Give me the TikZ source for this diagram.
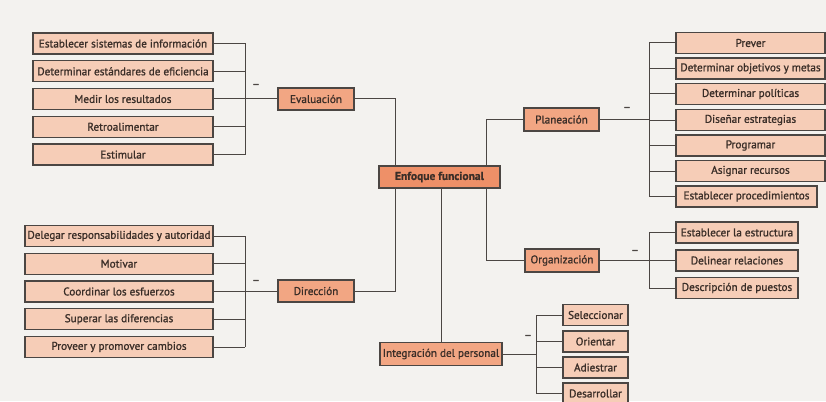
\documentclass[tikz,border=0pt]{standalone}
\usepackage{fontspec}
\setmainfont{PT Sans}
\newfontfamily\boxfont[FakeBold=1.2]{PT Sans}
\newfontfamily\rootfont[FakeBold=0.8]{PT Sans Bold}
\pgfdeclarelayer{bg}
\pgfsetlayers{bg,main}
\definecolor{paper}{HTML}{F3F2EF}
\definecolor{leaf}{HTML}{F6CDB7}
\definecolor{branch}{HTML}{F2A683}
\definecolor{root}{HTML}{EE9068}
\definecolor{edge}{HTML}{4B4643}
\definecolor{ink}{HTML}{3A2E28}

\begin{document}
\begin{tikzpicture}[x=1pt,y=-1pt,
  box/.style={draw=edge, line width=1.3pt, text=ink, inner sep=0pt,
    minimum height=21pt, anchor=center, font=\boxfont\fontsize{11.2}{12}\selectfont},
  leafbox/.style={box, fill=leaf},
  branchbox/.style={box, fill=branch},
  rootbox/.style={box, fill=root, font=\rootfont\fontsize{11.5}{12}\selectfont},
  wire/.style={draw=edge, line width=1pt},
  tick/.style={text=edge, font=\boxfont\fontsize{12}{12}\selectfont, inner sep=0pt}
]
\useasboundingbox (0,0) rectangle (826,401);
\begin{pgfonlayer}{bg}
  \fill[paper] (0,0) rectangle (826,401);
\end{pgfonlayer}

% ---- central node
\node[rootbox, minimum width=121pt, minimum height=22pt] (enf) at (439.5,177) {Enfoque funcional};

% ---- main functions
\node[branchbox, minimum width=76pt, minimum height=22pt] (ev)  at (316,99)   {Evaluación};
\node[branchbox, minimum width=76pt, minimum height=22pt] (dir) at (316,291)  {Dirección};
\node[branchbox, minimum width=75pt, minimum height=23pt] (pl)  at (561.5,119.5) {Planeación};
\node[branchbox, minimum width=74pt, minimum height=23pt] (org) at (562,260.5) {Organización};
\node[branchbox, minimum width=122pt, minimum height=23pt] (ip) at (441,354) {Integración del personal};

% ---- Evaluación activities
\node[leafbox, minimum width=180pt] (e1) at (123,43.5)  {Establecer sistemas de información};
\node[leafbox, minimum width=180pt] (e2) at (123,71.3)  {Determinar estándares de eficiencia};
\node[leafbox, minimum width=180pt] (e3) at (123,99)    {Medir los resultados};
\node[leafbox, minimum width=180pt] (e4) at (123,126.8) {Retroalimentar};
\node[leafbox, minimum width=180pt] (e5) at (123,154.6) {Estimular};

% ---- Dirección activities
\node[leafbox, minimum width=188pt] (d1) at (119,236)   {Delegar responsabilidades y autoridad};
\node[leafbox, minimum width=188pt] (d2) at (119,263.7) {Motivar};
\node[leafbox, minimum width=188pt] (d3) at (119,291.5) {Coordinar los esfuerzos};
\node[leafbox, minimum width=188pt] (d4) at (119,319.3) {Superar las diferencias};
\node[leafbox, minimum width=188pt] (d5) at (119,347)   {Proveer y promover cambios};

% ---- Planeación activities
\node[leafbox, minimum width=149pt] (p1) at (750.5,43)   {Prever};
\node[leafbox, minimum width=149pt] (p2) at (750.5,68.5) {Determinar objetivos y metas};
\node[leafbox, minimum width=149pt] (p3) at (750.5,94)   {Determinar políticas};
\node[leafbox, minimum width=149pt] (p4) at (750.5,120)  {Diseñar estrategias};
\node[leafbox, minimum width=149pt] (p5) at (750.5,145.5){Programar};
\node[leafbox, minimum width=149pt] (p6) at (750.5,171)  {Asignar recursos};
\node[leafbox, minimum width=141pt] (p7) at (746.5,196.5){Establecer procedimientos};

% ---- Organización activities
\node[leafbox, minimum width=122pt] (o1) at (737,232.5) {Establecer la estructura};
\node[leafbox, minimum width=122pt] (o2) at (737,260.5) {Delinear relaciones};
\node[leafbox, minimum width=122pt] (o3) at (737,288)   {Descripción de puestos};

% ---- Integración del personal activities
\node[leafbox, minimum width=65pt] (i1) at (595.5,315)   {Seleccionar};
\node[leafbox, minimum width=65pt] (i2) at (595.5,341.5) {Orientar};
\node[leafbox, minimum width=65pt] (i3) at (595.5,367.5) {Adiestrar};
\node[leafbox, minimum width=65pt] (i4) at (595.5,393.5) {Desarrollar};

% ---- bus positions
\coordinate (busE) at (245,0);
\coordinate (busD) at (245,0);
\coordinate (busP) at (649,0);
\coordinate (busO) at (649,0);
\coordinate (busI) at (536,0);
\coordinate (spineL) at (395,0);
\coordinate (spineR) at (486,0);

% ---- minus marks
\node[tick] at (256,86)  {–};
\node[tick] at (256,282) {–};
\node[tick] at (627,109) {–};
\node[tick] at (635,252) {–};
\node[tick] at (528,337) {–};

\begin{pgfonlayer}{bg}
  % spines through the central node
  \draw[wire] (ev.east) -- (ev.east -| spineL) -- (dir.east -| spineL) -- (dir.east);
  \draw[wire] (pl.west) -- (pl.west -| spineR) -- (org.west -| spineR) -- (org.west);
  \draw[wire] (ip.north) -- (ip.north |- enf.south);

  % Evaluación bracket
  \draw[wire] (e1.east -| busE) -- (e5.east -| busE);
  \foreach \n in {e1,e2,e3,e4,e5} \draw[wire] (\n.east) -- (\n.east -| busE);
  \draw[wire] (ev.west) -- (ev.west -| busE);

  % Dirección bracket
  \draw[wire] (d1.east -| busD) -- (d5.east -| busD);
  \foreach \n in {d1,d2,d3,d4,d5} \draw[wire] (\n.east) -- (\n.east -| busD);
  \draw[wire] (dir.west) -- (dir.west -| busD);

  % Planeación bracket
  \draw[wire] (p1.west -| busP) -- (p7.west -| busP);
  \foreach \n in {p1,p2,p3,p4,p5,p6,p7} \draw[wire] (\n.west) -- (\n.west -| busP);
  \draw[wire] (pl.east) -- (pl.east -| busP);

  % Organización bracket
  \draw[wire] (o1.west -| busO) -- (o3.west -| busO);
  \foreach \n in {o1,o2,o3} \draw[wire] (\n.west) -- (\n.west -| busO);
  \draw[wire] (org.east) -- (org.east -| busO);

  % Integración bracket
  \draw[wire] (i1.west -| busI) -- (i4.west -| busI);
  \foreach \n in {i1,i2,i3,i4} \draw[wire] (\n.west) -- (\n.west -| busI);
  \draw[wire] (ip.east) -- (ip.east -| busI);
\end{pgfonlayer}
\end{tikzpicture}
\end{document}
